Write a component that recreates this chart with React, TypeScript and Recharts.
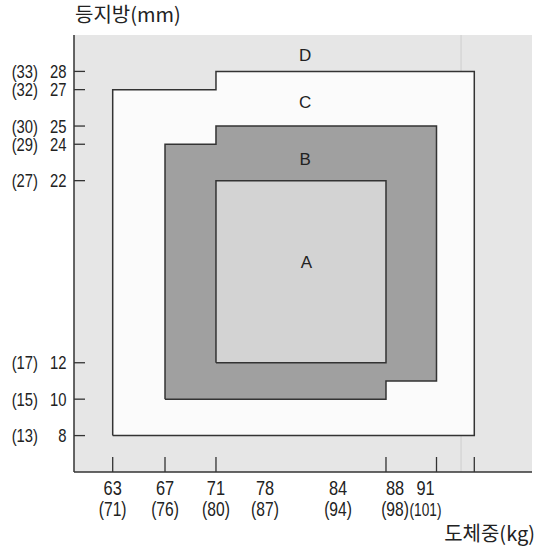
import React from 'react';
import { ComposedChart, Scatter, XAxis, YAxis, CartesianGrid, ReferenceLine } from 'recharts';

// ---- data ----
const xTicks = [63, 67, 71, 78, 84, 88, 91, 95];
const xTickLabels = ['63', '67', '71', '78', '84', '88', '91', ''];
const xTickAltLabels = ['(71)', '(76)', '(80)', '(87)', '(94)', '(98)', '(101)', ''];
const xTickMarks = [63, 67, 71, 88, 91, 95];

const yTicks = [8, 10, 12, 22, 24, 25, 27, 28];
const yTickAltLabels = ['(13)', '(15)', '(17)', '(27)', '(29)', '(30)', '(32)', '(33)'];

const gradeC = [
  { x: 63, y: 8 }, { x: 63, y: 27 }, { x: 71, y: 27 }, { x: 71, y: 28 },
  { x: 95, y: 28 }, { x: 95, y: 8 }, { x: 63, y: 8 },
];
const gradeB = [
  { x: 67, y: 10 }, { x: 67, y: 24 }, { x: 71, y: 24 }, { x: 71, y: 25 },
  { x: 91, y: 25 }, { x: 91, y: 11 }, { x: 88, y: 11 }, { x: 88, y: 10 }, { x: 67, y: 10 },
];
const gradeA = [
  { x: 71, y: 12 }, { x: 71, y: 22 }, { x: 88, y: 22 }, { x: 88, y: 12 }, { x: 71, y: 12 },
];
const gradeLabels = [
  { name: 'D', x: 81.3, y: 28.9 },
  { name: 'C', x: 81.3, y: 26.3 },
  { name: 'B', x: 81.3, y: 23.2 },
  { name: 'A', x: 81.4, y: 17.55 },
];
const scanLineX = 93.6;

// ---- layout / style ----
const X_BREAKS = [60, 63, 67, 71, 78, 84, 88, 91, 95, 101];
const X_FRACS = [0, 0.0845, 0.1987, 0.31, 0.417, 0.5764, 0.6812, 0.7915, 0.874, 1];
const X_LABEL_DX = [0, 0, 0, 0, 0, 9, -11, 0];
const X_ALT_FONT = [20, 20, 20, 20, 20, 20, 17.5, 20];

const NUM_FONT = "'Liberation Sans', Arial, sans-serif";
const KR_FONT = "'Noto Sans CJK KR', 'Noto Sans', sans-serif";
const INK = '#333';
const TXT = '#222';

function makeScale(breaks: number[], fracs: number[], dom?: number[], rng?: number[]): any {
  let d = dom ? dom.slice() : [breaks[0], breaks[breaks.length - 1]];
  let r = rng ? rng.slice() : [0, 1];
  const toFrac = (v: number) => {
    const n = breaks.length;
    let i = 0;
    while (i < n - 2 && v > breaks[i + 1]) i++;
    const t = (v - breaks[i]) / (breaks[i + 1] - breaks[i]);
    return fracs[i] + t * (fracs[i + 1] - fracs[i]);
  };
  const s: any = (v: any) => r[0] + toFrac(Number(v)) * (r[1] - r[0]);
  s.domain = (nd?: any) => {
    if (nd === undefined) return d.slice();
    d = Array.from(nd).map(Number);
    return s;
  };
  s.range = (nr?: any) => {
    if (nr === undefined) return r.slice();
    r = Array.from(nr).map(Number);
    return s;
  };
  s.copy = () => makeScale(breaks, fracs, d, r);
  s.ticks = () => breaks.slice();
  s.tickFormat = () => (v: any) => String(v);
  s.nice = () => s;
  s.clamp = () => s;
  s.invert = (px: number) => {
    const f = (px - r[0]) / (r[1] - r[0]);
    let i = 0;
    while (i < fracs.length - 2 && f > fracs[i + 1]) i++;
    const t = (f - fracs[i]) / (fracs[i + 1] - fracs[i]);
    return breaks[i] + t * (breaks[i + 1] - breaks[i]);
  };
  return s;
}

const xScale = makeScale(X_BREAKS, X_FRACS);

const Empty = () => <g />;

function NarrowText(props: {
  x: number; y: number; size: number; anchor: 'start' | 'middle' | 'end'; sx?: number; children: any;
}) {
  const { x, y, size, anchor, sx = 0.78, children } = props;
  return (
    <g transform={`translate(${x},${y}) scale(${sx},1)`}>
      <text x={0} y={0} textAnchor={anchor} fontFamily={NUM_FONT} fontSize={size} fill={TXT}>
        {children}
      </text>
    </g>
  );
}

function XTick(props: any) {
  const { x, y, payload } = props;
  const i = xTicks.indexOf(payload.value);
  const dx = X_LABEL_DX[i] || 0;
  return (
    <g>
      {xTickMarks.includes(payload.value) && (
        <line x1={x} x2={x} y1={y} y2={y - 15} stroke={INK} strokeWidth={1.3} />
      )}
      <NarrowText x={x + dx} y={y + 23} size={21} anchor="middle">{xTickLabels[i]}</NarrowText>
      <NarrowText x={x + dx} y={y + 44} size={X_ALT_FONT[i]} anchor="middle">{xTickAltLabels[i]}</NarrowText>
    </g>
  );
}

function YTick(props: any) {
  const { x, y, payload } = props;
  const i = yTicks.indexOf(payload.value);
  return (
    <g>
      <line x1={x} x2={x + 11} y1={y} y2={y} stroke={INK} strokeWidth={1.3} />
      <NarrowText x={x - 7.5} y={y + 6.5} size={18.5} anchor="end" sx={0.8}>{String(payload.value)}</NarrowText>
      <NarrowText x={x - 36} y={y + 6.5} size={18.5} anchor="end" sx={0.8}>{yTickAltLabels[i]}</NarrowText>
    </g>
  );
}

const GradeLabel = (p: any) => (
  <text x={p.cx} y={p.cy + 6} textAnchor="middle" fontFamily={NUM_FONT} fontSize={17} fill={TXT}>
    {p.payload.name}
  </text>
);

export default function App() {
  return (
    <div style={{ position: 'absolute', left: 0, top: 0, background: '#fff' }}>
      <ComposedChart width={545} height={551} margin={{ top: 35, right: 13, bottom: 0, left: 0 }}>
        <CartesianGrid horizontal={false} vertical={false} fill="#e6e6e6" stroke="none" />
        <XAxis
          type="number"
          dataKey="x"
          domain={[60, 101]}
          scale={xScale}
          ticks={xTicks}
          interval={0}
          allowDataOverflow
          height={79}
          tickSize={0}
          tickMargin={0}
          tickLine={false}
          tick={(p: any) => <XTick {...p} />}
          axisLine={{ stroke: INK, strokeWidth: 1.5 }}
          label={{
            content: (lp: any) => {
              const vb = lp.viewBox || { x: 74, y: 472, width: 458, height: 79 };
              return (
                <text x={vb.x + vb.width + 3} y={vb.y + 69} textAnchor="end" fontFamily={KR_FONT} fontSize={20} fill={TXT}>
                  도체중(kg)
                </text>
              );
            },
          }}
        />
        <YAxis
          type="number"
          dataKey="y"
          domain={[6, 30]}
          ticks={yTicks}
          interval={0}
          allowDataOverflow
          width={74}
          tickSize={0}
          tickMargin={0}
          tickLine={false}
          tick={(p: any) => <YTick {...p} />}
          axisLine={{ stroke: INK, strokeWidth: 1.5 }}
          label={{
            content: (lp: any) => {
              const vb = lp.viewBox || { x: 0, y: 35, width: 74, height: 437 };
              return (
                <text x={vb.x + vb.width + 1} y={vb.y - 13} textAnchor="start" fontFamily={KR_FONT} fontSize={20} fill={TXT}>
                  등지방(mm)
                </text>
              );
            },
          }}
        />
        <Scatter
          data={gradeC}
          line={{ stroke: INK, strokeWidth: 1.5, fill: '#fbfbfb' }}
          lineType="joint"
          shape={Empty}
          isAnimationActive={false}
        />
        <ReferenceLine x={scanLineX} stroke="#d2d2d2" strokeWidth={1.2} />
        <Scatter
          data={gradeB}
          line={{ stroke: INK, strokeWidth: 1.5, fill: '#a0a0a0' }}
          lineType="joint"
          shape={Empty}
          isAnimationActive={false}
        />
        <Scatter
          data={gradeA}
          line={{ stroke: INK, strokeWidth: 1.5, fill: '#d3d3d3' }}
          lineType="joint"
          shape={Empty}
          isAnimationActive={false}
        />
        <Scatter data={gradeLabels} shape={GradeLabel} isAnimationActive={false} />
      </ComposedChart>
    </div>
  );
}
